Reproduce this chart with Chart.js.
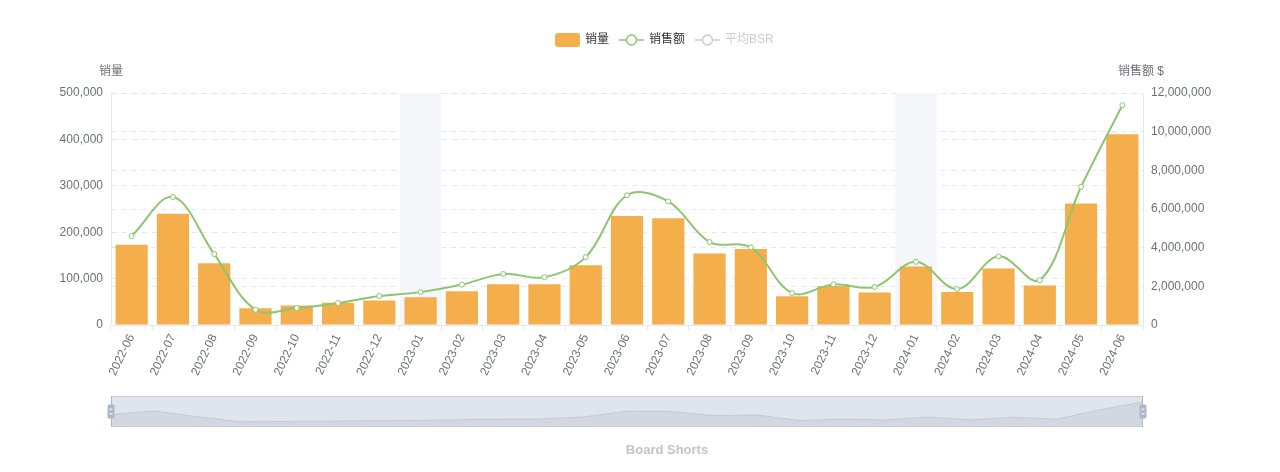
<!DOCTYPE html>
<html>
<head>
<meta charset="utf-8">
<script src="https://cdn.jsdelivr.net/npm/chart.js@4/dist/chart.umd.min.js"></script>
<style>
  html, body { margin: 0; padding: 0; background: #fff; }
  body { width: 1280px; height: 472px; position: relative; overflow: hidden; }
  #main { position: absolute; left: 0; top: 0; }
  #zoom { position: absolute; left: 101px; top: 391px; }
  #title { position: absolute; left: 567px; width: 200px; top: 442px; text-align: center;
           font: bold 13px "Liberation Sans", Arial, sans-serif; color: #c4c4c4; }
</style>
</head>
<body>
<canvas id="main" width="1280" height="472"></canvas>
<canvas id="zoom" width="1052" height="42"></canvas>
<div id="title">Board Shorts</div>
<script>
const categories = ['2022-06','2022-07','2022-08','2022-09','2022-10','2022-11','2022-12',
  '2023-01','2023-02','2023-03','2023-04','2023-05','2023-06','2023-07','2023-08','2023-09',
  '2023-10','2023-11','2023-12','2024-01','2024-02','2024-03','2024-04','2024-05','2024-06'];
const salesVolume = [173000, 240000, 133000, 36000, 42000, 48000, 53000, 60000, 73000, 88000,
  88000, 129000, 235000, 230000, 154000, 164000, 62000, 84000, 70000, 126000, 71000, 122000,
  85000, 262000, 411000];
const salesAmount = [4600000, 6620000, 3670000, 790000, 880000, 1140000, 1500000, 1700000,
  2090000, 2640000, 2470000, 3510000, 6710000, 6390000, 4290000, 4010000, 1650000, 2100000,
  1970000, 3270000, 1860000, 3550000, 2320000, 7150000, 11370000];
const avgBSR = [];
const highlightMonths = ['2023-01', '2024-01'];
const leftAxisMax = 500000, leftAxisStep = 100000;
const rightAxisMax = 12000000, rightAxisStep = 2000000;
const seriesNames = ['销量', '销售额', '平均BSR'];
const axisNames = ['销量', '销售额 $'];

const FONT = '"Liberation Sans", Arial, "Noto Sans CJK SC", sans-serif';
const ORANGE = '#f4ae4c', GREEN = '#8dc66f', GRID = '#e3e7ef', TXT = '#6e7079';
Chart.defaults.font.family = FONT;
Chart.defaults.font.size = 12;
Chart.defaults.color = TXT;

const fmt = v => Number(v).toLocaleString('en-US');

const bandPlugin = {
  id: 'bands',
  beforeDatasetsDraw(chart) {
    const x = chart.scales.x, a = chart.chartArea, ctx = chart.ctx;
    const w = x.width / categories.length;
    ctx.save();
    ctx.fillStyle = '#f4f6fa';
    highlightMonths.forEach(m => {
      const i = categories.indexOf(m);
      const c = x.getPixelForValue(i);
      ctx.fillRect(c - w / 2, a.top, w, a.bottom - a.top);
    });
    ctx.restore();
  }
};

const decoPlugin = {
  id: 'deco',
  afterDraw(chart) {
    const ctx = chart.ctx, a = chart.chartArea;
    ctx.save();
    ctx.font = '12px ' + FONT;
    ctx.fillStyle = TXT;
    ctx.textAlign = 'center';
    ctx.textBaseline = 'middle';
    ctx.fillText(axisNames[0], a.left, 72);
    ctx.fillText(axisNames[1], a.right - 2, 72);
    let x = 555; const y = 40;
    ctx.textAlign = 'left';
    ctx.fillStyle = ORANGE;
    ctx.beginPath();
    ctx.roundRect(x, y - 7, 25, 14, 3);
    ctx.fill();
    x += 30;
    ctx.fillStyle = '#333';
    ctx.fillText(seriesNames[0], x, y);
    x += ctx.measureText(seriesNames[0]).width + 10;
    const lineIcon = (col, txtCol, label) => {
      ctx.strokeStyle = col; ctx.lineWidth = 1.5;
      ctx.beginPath(); ctx.moveTo(x, y); ctx.lineTo(x + 25, y); ctx.stroke();
      ctx.fillStyle = '#fff';
      ctx.beginPath(); ctx.arc(x + 12.5, y, 5, 0, Math.PI * 2); ctx.fill(); ctx.stroke();
      x += 30;
      ctx.fillStyle = txtCol;
      ctx.fillText(label, x, y);
      x += ctx.measureText(label).width + 10;
    };
    lineIcon(GREEN, '#333', seriesNames[1]);
    lineIcon('#ccc', '#ccc', seriesNames[2]);
    ctx.restore();
  }
};

new Chart(document.getElementById('main'), {
  type: 'bar',
  data: {
    labels: categories,
    datasets: [
      { type: 'line', label: seriesNames[1], data: salesAmount, yAxisID: 'y1', order: 0,
        borderColor: GREEN, borderWidth: 2, tension: 0.36, pointRadius: 2.5, pointBorderWidth: 1,
        pointBackgroundColor: '#fff', pointBorderColor: GREEN, fill: false },
      { type: 'line', label: seriesNames[2], data: avgBSR, yAxisID: 'y1', order: 0,
        borderColor: '#ccc', pointRadius: 0 },
      { type: 'bar', label: seriesNames[0], data: salesVolume, yAxisID: 'y', order: 1,
        backgroundColor: ORANGE, categoryPercentage: 1, barPercentage: 0.78 }
    ]
  },
  options: {
    responsive: false, animation: false,
    layout: { padding: { top: 93, left: 0, right: 0, bottom: 0 } },
    plugins: { legend: { display: false }, tooltip: { enabled: false }, title: { display: false } },
    scales: {
      x: {
        offset: true,
        grid: { drawOnChartArea: false, drawTicks: true, tickLength: 5, color: GRID, offset: true },
        border: { color: GRID },
        ticks: { minRotation: 64, maxRotation: 64, autoSkip: false, padding: 2, color: TXT },
        afterFit(s) { s.height = 147; }
      },
      y: {
        position: 'left', min: 0, max: leftAxisMax,
        ticks: { stepSize: leftAxisStep, padding: 8, callback: fmt, color: TXT },
        grid: { color: GRID, drawTicks: false },
        border: { color: GRID, dash: [5, 5] },
        afterFit(s) { s.width = 111; }
      },
      y1: {
        position: 'right', min: 0, max: rightAxisMax,
        ticks: { stepSize: rightAxisStep, padding: 8, callback: fmt, color: TXT },
        grid: { color: GRID, drawTicks: false },
        border: { color: GRID, dash: [5, 5] },
        afterFit(s) { s.width = 137; }
      }
    }
  },
  plugins: [bandPlugin, decoPlugin]
});

const zoomBg = {
  id: 'zoomBg',
  beforeDatasetsDraw(chart) {
    const a = chart.chartArea, ctx = chart.ctx;
    ctx.save();
    ctx.fillStyle = '#e0e4ed';
    ctx.fillRect(a.left, a.top, a.right - a.left, a.bottom - a.top);
    ctx.restore();
  },
  afterDraw(chart) {
    const a = chart.chartArea, ctx = chart.ctx;
    ctx.save();
    ctx.strokeStyle = '#c9d0dc'; ctx.lineWidth = 1;
    ctx.strokeRect(a.left + 0.5, a.top + 0.5, a.right - a.left - 1, a.bottom - a.top - 1);
    ctx.strokeStyle = '#aeb8ca';
    [a.left + 0.5, a.right - 0.5].forEach(xx => {
      ctx.beginPath(); ctx.moveTo(xx, a.top); ctx.lineTo(xx, a.bottom); ctx.stroke();
    });
    const mid = (a.top + a.bottom) / 2;
    [a.left, a.right].forEach(xx => {
      ctx.fillStyle = '#aeb8ca';
      ctx.beginPath(); ctx.roundRect(xx - 3.5, mid - 7, 7, 14, 1.5); ctx.fill();
      ctx.fillStyle = '#e8ecf3';
      ctx.fillRect(xx - 1.5, mid - 3, 3, 1.5);
      ctx.fillRect(xx - 1.5, mid + 1.5, 3, 1.5);
    });
    ctx.restore();
  }
};

new Chart(document.getElementById('zoom'), {
  type: 'line',
  data: {
    labels: categories,
    datasets: [{ data: salesVolume, fill: 'start', backgroundColor: '#d2d7e1',
      borderColor: '#c3c9d6', borderWidth: 1, pointRadius: 0, tension: 0 }]
  },
  options: {
    responsive: false, animation: false,
    layout: { padding: { left: 10, right: 10, top: 5, bottom: 6 } },
    plugins: { legend: { display: false }, tooltip: { enabled: false } },
    scales: {
      x: { display: false, offset: false },
      y: { display: false, min: -62000, max: 522000 }
    }
  },
  plugins: [zoomBg]
});
</script>
</body>
</html>
